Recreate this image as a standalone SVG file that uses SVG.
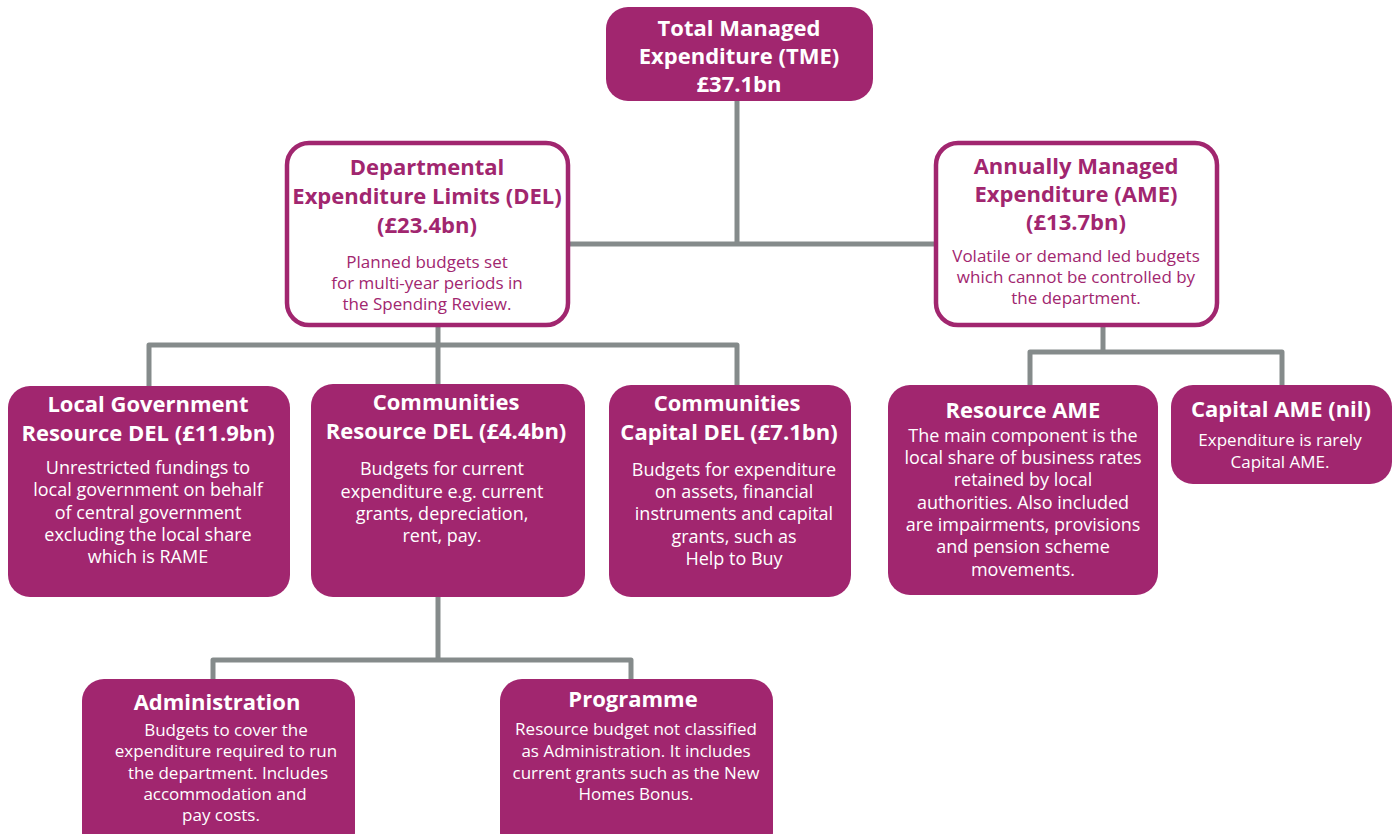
<svg xmlns="http://www.w3.org/2000/svg" width="1397" height="834" viewBox="0 0 1397 834">
<style>
.box{fill:#A1266F;}
.obox{fill:#FFFFFF;stroke:#A1266F;stroke-width:4.5;}
.ln{stroke:#858B8B;stroke-width:5;fill:none;stroke-linejoin:round;}
text{font-family:"Open Sans","Noto Sans","Liberation Sans",sans-serif;text-anchor:middle;}
.t{font-size:22px;font-weight:700;fill:#FFFFFF;}
.tm{font-size:22px;font-weight:700;fill:#A1266F;}
.b{font-size:18px;fill:#FFFFFF;}
.bs{font-size:17px;fill:#FFFFFF;}
.bms{font-size:17px;fill:#A1266F;}
</style>
<rect width="1397" height="834" fill="#FFFFFF"/>
<g id="connectors">
<path class="ln" d="M737 101 V244 M568 244 H935"/>
<path class="ln" d="M438 325 V385 M149 387 V345 H737 V386"/>
<path class="ln" d="M1103 325 V352 M1030 385 V352 H1282 V385"/>
<path class="ln" d="M438 597 V660 M213 680 V660 H631 V680"/>
</g>
<g id="tme">
<rect class="box" x="606" y="7" width="267" height="94" rx="22"/>
<text class="t" x="739" y="36">Total Managed</text>
<text class="t" x="739" y="64">Expenditure (TME)</text>
<text class="t" x="739" y="92">£37.1bn</text>
</g>
<g id="del">
<rect class="obox" x="287" y="143" width="281" height="182" rx="22"/>
<text class="tm" x="427" y="175">Departmental</text>
<text class="tm" x="427" y="204">Expenditure Limits (DEL)</text>
<text class="tm" x="427" y="233">(£23.4bn)</text>
<text class="bms" x="427" y="268">Planned budgets set</text>
<text class="bms" x="427" y="289">for multi-year periods in</text>
<text class="bms" x="427" y="310">the Spending Review.</text>
</g>
<g id="ame">
<rect class="obox" x="936" y="143" width="281" height="182" rx="22"/>
<text class="tm" x="1076" y="174">Annually Managed</text>
<text class="tm" x="1076" y="202">Expenditure (AME)</text>
<text class="tm" x="1076" y="230">(£13.7bn)</text>
<text class="bms" x="1076" y="262">Volatile or demand led budgets</text>
<text class="bms" x="1076" y="283">which cannot be controlled by</text>
<text class="bms" x="1076" y="304">the department.</text>
</g>
<g id="lg-rdel">
<rect class="box" x="8" y="386" width="282" height="211" rx="22"/>
<text class="t" x="148" y="412">Local Government</text>
<text class="t" x="148" y="441">Resource DEL (£11.9bn)</text>
<text class="b" x="148" y="474">Unrestricted fundings to</text>
<text class="b" x="148" y="496">local government on behalf</text>
<text class="b" x="148" y="519">of central government</text>
<text class="b" x="148" y="541">excluding the local share</text>
<text class="b" x="148" y="563">which is RAME</text>
</g>
<g id="comm-rdel">
<rect class="box" x="311" y="384" width="274" height="213" rx="22"/>
<text class="t" x="446" y="410">Communities</text>
<text class="t" x="446" y="439">Resource DEL (£4.4bn)</text>
<text class="b" x="442" y="475">Budgets for current</text>
<text class="b" x="442" y="498">expenditure e.g. current</text>
<text class="b" x="442" y="520">grants, depreciation,</text>
<text class="b" x="442" y="542">rent, pay.</text>
</g>
<g id="comm-cdel">
<rect class="box" x="609" y="385" width="242" height="212" rx="22"/>
<text class="t" x="727" y="411">Communities</text>
<text class="t" x="729" y="440">Capital DEL (£7.1bn)</text>
<text class="b" x="734" y="476">Budgets for expenditure</text>
<text class="b" x="734" y="498">on assets, financial</text>
<text class="b" x="734" y="520">instruments and capital</text>
<text class="b" x="734" y="543">grants, such as</text>
<text class="b" x="734" y="565">Help to Buy</text>
</g>
<g id="res-ame">
<rect class="box" x="888" y="385" width="270" height="210" rx="22"/>
<text class="t" x="1023" y="418">Resource AME</text>
<text class="b" x="1023" y="442">The main component is the</text>
<text class="b" x="1023" y="464">local share of business rates</text>
<text class="b" x="1023" y="486">retained by local</text>
<text class="b" x="1023" y="509">authorities. Also included</text>
<text class="b" x="1023" y="531">are impairments, provisions</text>
<text class="b" x="1023" y="553">and pension scheme</text>
<text class="b" x="1023" y="576">movements.</text>
</g>
<g id="cap-ame">
<rect class="box" x="1171" y="385" width="221" height="99" rx="22"/>
<text class="t" x="1281" y="417">Capital AME (nil)</text>
<text class="bs" x="1280" y="446">Expenditure is rarely</text>
<text class="bs" x="1280" y="468">Capital AME.</text>
</g>
<g id="admin">
<rect class="box" x="82" y="679" width="273" height="175" rx="22"/>
<text class="t" x="217" y="710">Administration</text>
<text class="bs" x="226" y="736">Budgets to cover the</text>
<text class="bs" x="226" y="757">expenditure required to run</text>
<text class="bs" x="228" y="779">the department. Includes</text>
<text class="bs" x="225" y="800">accommodation and</text>
<text class="bs" x="221" y="821">pay costs.</text>
</g>
<g id="programme">
<rect class="box" x="500" y="679" width="273" height="175" rx="22"/>
<text class="t" x="633" y="707">Programme</text>
<text class="bs" x="636" y="735">Resource budget not classified</text>
<text class="bs" x="636" y="757">as Administration. It includes</text>
<text class="bs" x="636" y="779">current grants such as the New</text>
<text class="bs" x="636" y="800">Homes Bonus.</text>
</g>
</svg>
